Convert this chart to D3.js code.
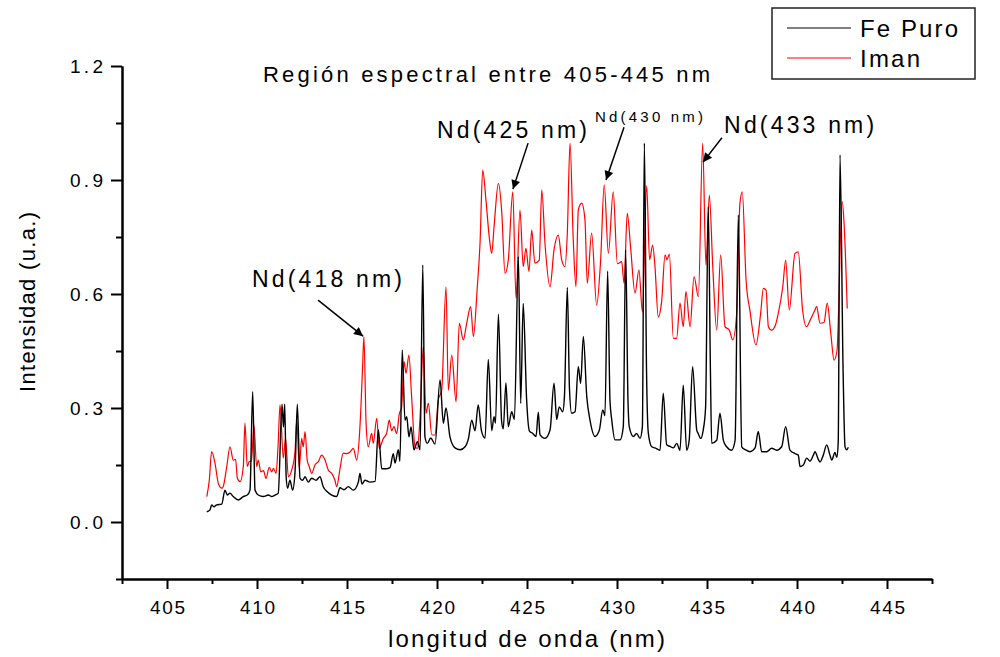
<!DOCTYPE html>
<html>
<head>
<meta charset="utf-8">
<script src="https://cdn.jsdelivr.net/npm/d3@7"></script>
<style>
  html, body { margin: 0; padding: 0; background: #fff; }
  svg { display: block; font-family: "Liberation Sans", Arial, sans-serif; }
</style>
</head>
<body>
<svg id="chart" width="1000" height="657"></svg>
<script>
// Wavelength (nm) and intensity (a.u.) pairs for each spectrum
const fePuro = [
  [407.21,0.027],[407.39,0.032],[407.48,0.045],[407.61,0.040],[407.76,0.045],[408.04,0.047],
  [408.22,0.084],[408.35,0.071],[408.50,0.076],[408.68,0.067],[408.96,0.058],[409.24,0.067],
  [409.46,0.071],[409.61,0.084],[409.76,0.343],[409.89,0.084],[410.07,0.071],[410.35,0.067],
  [410.63,0.071],[410.82,0.067],[411.00,0.071],[411.18,0.076],[411.39,0.310],[411.47,0.250],
  [411.54,0.310],[411.62,0.119],[411.70,0.089],[411.83,0.110],[411.98,0.084],[412.11,0.130],
  [412.24,0.310],[412.39,0.115],[412.54,0.110],[412.67,0.119],[412.85,0.105],[413.04,0.115],
  [413.28,0.110],[413.50,0.119],[413.68,0.093],[413.89,0.080],[414.15,0.071],[414.43,0.067],
  [414.61,0.090],[414.83,0.085],[415.07,0.093],[415.35,0.084],[415.63,0.105],[415.72,0.128],
  [415.83,0.100],[416.00,0.110],[416.28,0.105],[416.56,0.107],[416.74,0.243],[416.93,0.140],
  [417.17,0.140],[417.39,0.143],[417.57,0.180],[417.67,0.155],[417.85,0.190],[417.94,0.160],
  [418.07,0.453],[418.22,0.268],[418.32,0.277],[418.44,0.224],[418.56,0.250],[418.72,0.190],
  [418.91,0.211],[419.06,0.190],[419.21,0.676],[419.33,0.224],[419.46,0.207],[419.65,0.221],
  [419.89,0.205],[420.17,0.374],[420.35,0.260],[420.50,0.300],[420.72,0.224],[421.00,0.195],
  [421.28,0.190],[421.56,0.198],[421.75,0.220],[421.93,0.268],[422.11,0.240],[422.29,0.308],
  [422.47,0.240],[422.67,0.221],[422.85,0.428],[423.04,0.240],[423.17,0.277],[423.25,0.260],
  [423.41,0.547],[423.59,0.265],[423.68,0.245],[423.83,0.366],[423.96,0.251],[424.15,0.290],
  [424.30,0.270],[424.52,0.698],[424.65,0.312],[424.79,0.575],[424.98,0.321],[425.13,0.240],
  [425.32,0.233],[425.50,0.225],[425.63,0.289],[425.72,0.230],[426.00,0.220],[426.28,0.242],
  [426.50,0.365],[426.65,0.270],[426.79,0.303],[426.98,0.290],[427.08,0.330],[427.24,0.617],
  [427.36,0.350],[427.48,0.286],[427.67,0.290],[427.85,0.409],[427.98,0.365],[428.13,0.488],
  [428.32,0.330],[428.50,0.268],[428.78,0.225],[429.02,0.242],[429.21,0.295],[429.33,0.280],
  [429.48,0.660],[429.61,0.320],[429.71,0.268],[429.89,0.216],[430.17,0.216],[430.35,0.251],
  [430.48,0.716],[430.61,0.320],[430.68,0.251],[430.91,0.225],[431.09,0.233],[431.28,0.220],
  [431.41,0.251],[431.52,0.997],[431.64,0.400],[431.74,0.234],[431.93,0.198],[432.11,0.195],
  [432.39,0.189],[432.57,0.339],[432.76,0.203],[432.94,0.199],[433.13,0.195],[433.32,0.207],
  [433.50,0.189],[433.68,0.360],[433.87,0.189],[434.01,0.215],[434.20,0.409],[434.43,0.242],
  [434.51,0.233],[434.65,0.220],[434.79,0.242],[434.92,0.300],[435.07,0.830],[435.19,0.400],
  [435.26,0.207],[435.54,0.215],[435.72,0.286],[435.91,0.215],[436.09,0.198],[436.37,0.189],
  [436.56,0.215],[436.74,0.808],[436.93,0.198],[437.17,0.189],[437.39,0.185],[437.67,0.195],
  [437.85,0.238],[438.04,0.185],[438.32,0.185],[438.59,0.194],[438.87,0.189],[439.15,0.198],
  [439.37,0.251],[439.61,0.189],[439.89,0.180],[440.07,0.176],[440.17,0.146],[440.35,0.150],
  [440.54,0.168],[440.72,0.160],[440.91,0.176],[441.00,0.185],[441.18,0.165],[441.28,0.158],
  [441.46,0.176],[441.65,0.203],[441.83,0.176],[441.93,0.163],[442.11,0.183],[442.21,0.170],
  [442.29,0.210],[442.39,0.966],[442.56,0.400],[442.67,0.197],[442.76,0.190],[442.85,0.197]
];

const iman = [
  [407.21,0.067],[407.35,0.110],[407.48,0.185],[407.67,0.154],[407.85,0.102],[408.04,0.089],
  [408.12,0.093],[408.32,0.146],[408.50,0.198],[408.68,0.163],[408.81,0.165],[408.91,0.115],
  [409.06,0.106],[409.24,0.146],[409.33,0.260],[409.46,0.146],[409.57,0.159],[409.69,0.160],
  [409.83,0.255],[409.98,0.146],[410.07,0.163],[410.21,0.132],[410.36,0.135],[410.50,0.115],
  [410.68,0.144],[410.82,0.132],[410.91,0.141],[411.06,0.128],[411.17,0.200],[411.28,0.308],
  [411.46,0.168],[411.59,0.220],[411.74,0.119],[411.93,0.137],[412.11,0.185],[412.21,0.268],
  [412.35,0.141],[412.48,0.220],[412.57,0.198],[412.67,0.238],[412.79,0.163],[412.90,0.146],
  [413.04,0.128],[413.22,0.150],[413.41,0.159],[413.59,0.176],[413.78,0.163],[413.96,0.137],
  [414.15,0.128],[414.33,0.110],[414.43,0.093],[414.61,0.140],[414.79,0.181],[414.98,0.180],
  [415.17,0.184],[415.35,0.194],[415.54,0.163],[415.72,0.251],[415.86,0.400],[415.94,0.488],
  [416.06,0.260],[416.18,0.198],[416.37,0.233],[416.46,0.207],[416.65,0.273],[416.79,0.194],
  [417.02,0.220],[417.20,0.233],[417.35,0.268],[417.48,0.240],[417.61,0.251],[417.76,0.233],
  [417.91,0.286],[418.03,0.300],[418.17,0.422],[418.28,0.391],[418.44,0.439],[418.59,0.330],
  [418.78,0.198],[418.91,0.194],[419.06,0.277],[419.24,0.461],[419.39,0.286],[419.52,0.312],
  [419.71,0.229],[419.89,0.229],[420.07,0.321],[420.26,0.347],[420.50,0.619],[420.63,0.347],
  [420.82,0.439],[421.06,0.316],[421.24,0.523],[421.46,0.479],[421.65,0.523],[421.87,0.567],
  [422.02,0.488],[422.24,0.619],[422.39,0.733],[422.54,0.926],[422.72,0.847],[422.90,0.751],
  [423.04,0.707],[423.17,0.777],[423.41,0.891],[423.59,0.821],[423.78,0.654],[423.96,0.689],
  [424.21,0.869],[424.39,0.589],[424.61,0.821],[424.79,0.672],[424.94,0.720],[425.11,0.659],
  [425.26,0.768],[425.44,0.681],[425.68,0.689],[425.82,0.874],[426.00,0.733],[426.28,0.619],
  [426.50,0.716],[426.74,0.755],[426.93,0.689],[427.11,0.672],[427.24,0.760],[427.39,0.997],
  [427.57,0.742],[427.72,0.619],[427.85,0.821],[428.04,0.839],[428.22,0.795],[428.35,0.628],
  [428.59,0.760],[428.87,0.571],[429.09,0.689],[429.29,0.887],[429.52,0.707],[429.79,0.869],
  [430.02,0.680],[430.26,0.685],[430.39,0.628],[430.57,0.812],[430.76,0.720],[431.00,0.602],
  [431.22,0.663],[431.41,0.553],[431.65,0.885],[431.81,0.690],[431.98,0.729],[432.11,0.672],
  [432.29,0.540],[432.48,0.580],[432.67,0.703],[432.78,0.690],[432.91,0.705],[433.13,0.483],
  [433.31,0.483],[433.50,0.576],[433.68,0.514],[433.83,0.606],[434.06,0.514],[434.28,0.646],
  [434.52,0.593],[434.76,0.997],[434.94,0.676],[435.13,0.860],[435.32,0.672],[435.54,0.505],
  [435.76,0.703],[436.00,0.514],[436.24,0.505],[436.43,0.479],[436.65,0.550],[436.83,0.839],
  [436.96,0.869],[437.17,0.637],[437.39,0.555],[437.72,0.466],[437.98,0.549],[438.13,0.615],
  [438.28,0.610],[438.41,0.514],[438.59,0.505],[438.78,0.515],[438.96,0.549],[439.21,0.619],
  [439.37,0.689],[439.57,0.558],[439.89,0.707],[440.07,0.711],[440.31,0.558],[440.53,0.514],
  [440.72,0.530],[441.00,0.558],[441.09,0.567],[441.28,0.523],[441.50,0.525],[441.68,0.576],
  [441.87,0.500],[442.06,0.426],[442.22,0.450],[442.51,0.843],[442.61,0.790],[442.79,0.562]
];

const xMajorTicks = [405, 410, 415, 420, 425, 430, 435, 440, 445];
const xMinorTicks = [402.5, 407.5, 412.5, 417.5, 422.5, 427.5, 432.5, 437.5, 442.5, 447.5];
const yMajorTicks = [0.0, 0.3, 0.6, 0.9, 1.2];
const yMinorTicks = [-0.15, 0.15, 0.45, 0.75, 1.05];

const seriesNames = ["Fe Puro", "Iman"];
const seriesColors = ["#000000", "#ff0000"];

// Nd line labels: text anchor, arrow start and arrow tip, in data units
const ndLabels = [
  { text: "Nd(418 nm)", at: [409.72, 0.618], from: [413.39, 0.584], to: [415.89, 0.489], size: 23, len: 150 },
  { text: "Nd(425 nm)", at: [420.00, 1.011], from: [425.06, 0.997], to: [424.22, 0.876], size: 23, len: 150 },
  { text: "Nd(430 nm)", at: [428.78, 1.053], from: [430.39, 1.039], to: [429.39, 0.900], size: 15, len: 108 },
  { text: "Nd(433 nm)", at: [435.95, 1.024], from: [435.83, 1.011], to: [434.78, 0.947], size: 23, len: 150 }
];

const svg = d3.select("#chart");

const x = d3.scaleLinear().domain([402.5, 447.5]).range([122, 932]);
const y = d3.scaleLinear().domain([-0.15, 1.2]).range([579, 66]);

// spectra
const line = d3.line().curve(d3.curveMonotoneX).x(d => x(d[0])).y(d => y(d[1]));
svg.append("path").datum(iman)
  .attr("fill", "none").attr("stroke", seriesColors[1]).attr("stroke-width", 1.2)
  .attr("stroke-linejoin", "round").attr("d", line);
svg.append("path").datum(fePuro)
  .attr("fill", "none").attr("stroke", seriesColors[0]).attr("stroke-width", 1.4)
  .attr("stroke-linejoin", "round").attr("d", line);

// axes
function styleAxis(g) {
  g.select(".domain").attr("stroke", "#000").attr("stroke-width", 2);
  g.selectAll(".tick line").attr("stroke", "#000").attr("stroke-width", 2);
}

const xMinor = svg.append("g").attr("transform", "translate(0,579)")
  .call(d3.axisBottom(x).tickValues(xMinorTicks).tickSize(5).tickSizeOuter(0).tickFormat(""));
styleAxis(xMinor);
const xMajor = svg.append("g").attr("transform", "translate(0,579)")
  .call(d3.axisBottom(x).tickValues(xMajorTicks).tickSize(10).tickSizeOuter(0)
    .tickPadding(12).tickFormat(d3.format("d")));
styleAxis(xMajor);
xMajor.selectAll(".tick text")
  .attr("font-size", 19).attr("font-family", "Liberation Sans, Arial, sans-serif")
  .attr("fill", "#000").attr("textLength", 35).attr("lengthAdjust", "spacing");

const yMinor = svg.append("g").attr("transform", "translate(122,0)")
  .call(d3.axisLeft(y).tickValues(yMinorTicks).tickSize(6).tickSizeOuter(0).tickFormat(""));
styleAxis(yMinor);
const yMajor = svg.append("g").attr("transform", "translate(122,0)")
  .call(d3.axisLeft(y).tickValues(yMajorTicks).tickSize(11).tickSizeOuter(0)
    .tickPadding(8).tickFormat(d3.format(".1f")));
styleAxis(yMajor);
yMajor.selectAll(".tick text")
  .attr("font-size", 19).attr("font-family", "Liberation Sans, Arial, sans-serif")
  .attr("fill", "#000").attr("textLength", 33).attr("lengthAdjust", "spacing");

// axis titles
svg.append("text")
  .attr("x", 388).attr("y", 647)
  .attr("font-size", 24).attr("textLength", 277).attr("lengthAdjust", "spacing")
  .text("longitud de onda (nm)");
svg.append("text")
  .attr("transform", "translate(35,392) rotate(-90)")
  .attr("font-size", 22).attr("textLength", 180).attr("lengthAdjust", "spacing")
  .text("Intensidad (u.a.)");

// title
svg.append("text")
  .attr("x", 263).attr("y", 82)
  .attr("font-size", 22).attr("textLength", 447).attr("lengthAdjust", "spacing")
  .text("Región espectral entre 405-445 nm");

// arrowhead
svg.append("defs").append("marker")
  .attr("id", "arrowhead").attr("viewBox", "0 0 10 10")
  .attr("refX", 10).attr("refY", 5)
  .attr("markerUnits", "userSpaceOnUse")
  .attr("markerWidth", 12).attr("markerHeight", 9)
  .attr("orient", "auto")
  .append("path").attr("d", "M0,0 L10,5 L0,10 Z").attr("fill", "#000");

const ann = svg.append("g");
ann.selectAll("line").data(ndLabels).join("line")
  .attr("x1", d => x(d.from[0])).attr("y1", d => y(d.from[1]))
  .attr("x2", d => x(d.to[0])).attr("y2", d => y(d.to[1]))
  .attr("stroke", "#000").attr("stroke-width", 1.5)
  .attr("marker-end", "url(#arrowhead)");
ann.selectAll("text").data(ndLabels).join("text")
  .attr("x", d => x(d.at[0])).attr("y", d => y(d.at[1]))
  .attr("font-size", d => d.size)
  .attr("textLength", d => d.len).attr("lengthAdjust", "spacing")
  .text(d => d.text);

// legend
const legend = svg.append("g");
legend.append("rect")
  .attr("x", 772).attr("y", 8).attr("width", 203).attr("height", 71)
  .attr("fill", "#fff").attr("stroke", "#222").attr("stroke-width", 1.5);
const legendRows = [
  { name: seriesNames[0], color: seriesColors[0], y: 28, len: 98 },
  { name: seriesNames[1], color: seriesColors[1], y: 58, len: 60 }
];
legend.selectAll("line").data(legendRows).join("line")
  .attr("x1", 787).attr("x2", 851).attr("y1", d => d.y).attr("y2", d => d.y)
  .attr("stroke", d => d.color).attr("stroke-width", 1);
legend.selectAll("text").data(legendRows).join("text")
  .attr("x", 860).attr("y", d => d.y + 9)
  .attr("font-size", 24).attr("textLength", d => d.len).attr("lengthAdjust", "spacing")
  .text(d => d.name);
</script>
</body>
</html>
